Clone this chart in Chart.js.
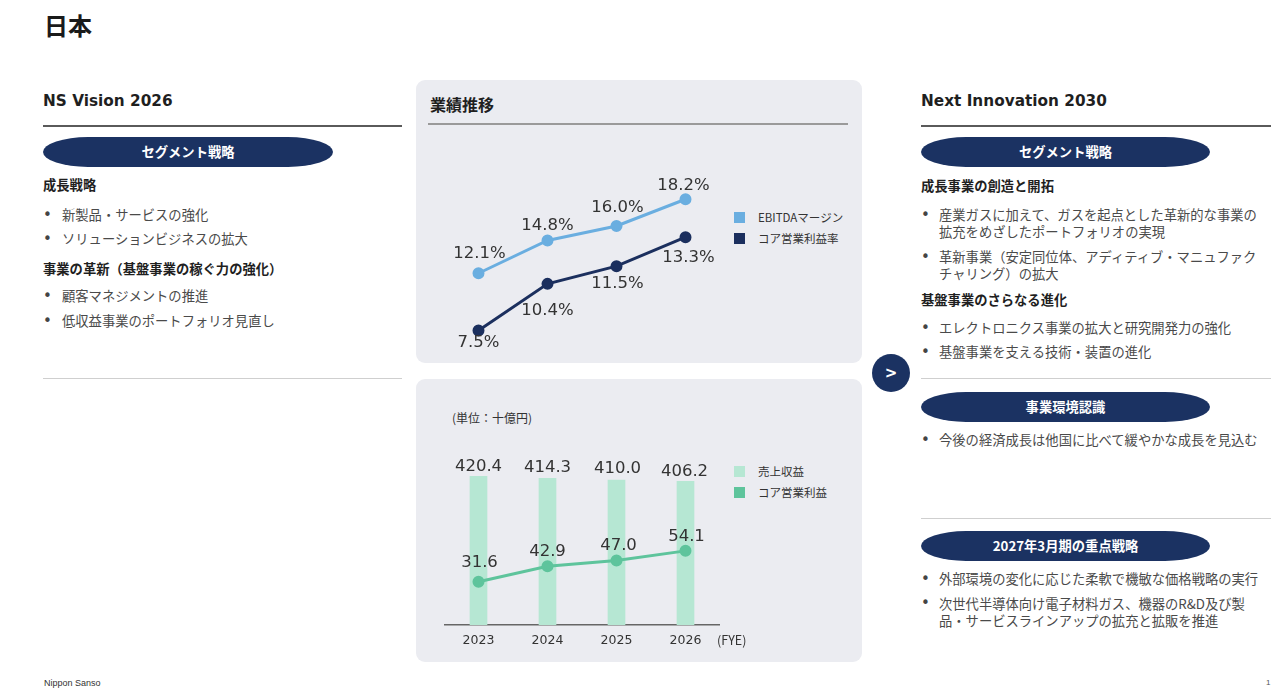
<!DOCTYPE html>
<html lang="ja">
<head>
<meta charset="utf-8">
<script src="https://cdn.jsdelivr.net/npm/chart.js@4"></script>
<style>
  html,body{margin:0;padding:0;background:#fff;}
  body{width:1271px;height:688px;position:relative;overflow:hidden;font-family:"Noto Sans CJK JP","Noto Sans",sans-serif;color:#3c3c3c;}
  .t{position:absolute;white-space:nowrap;line-height:22px;}
  .h1{font-weight:bold;font-size:24px;color:#1a1a1a;line-height:30px;}
  .h2{font-family:"DejaVu Sans","Noto Sans CJK JP",sans-serif;font-weight:bold;font-size:15.3px;color:#1f1f1f;}
  .hb{font-weight:bold;font-size:13.3px;color:#1f1f1f;}
  .b{font-size:13.3px;color:#4a4a4a;}
  .b2{font-size:13.3px;color:#4a4a4a;line-height:17px;}
  .dot{position:absolute;font-size:15px;color:#444;font-family:"DejaVu Sans",sans-serif;}
  .rule{position:absolute;height:1.5px;background:#5a5a5a;}
  .rule2{position:absolute;height:1px;background:#cfcfcf;}
  .pill{position:absolute;height:30px;line-height:30px;background:#1b3262;color:#fff;font-weight:bold;font-size:13.3px;text-align:center;border-radius:45px/15px;}
  .panel{position:absolute;left:416px;width:446px;height:283px;background:#ebecf1;border-radius:9px;}
  .sq{position:absolute;width:11px;height:11px;}
  .lg{font-size:11.5px;color:#333;}
  canvas{position:absolute;}
</style>
</head>
<body>
<div class="t h1" style="left:44px;top:10px;">日本</div>

<!-- Left column -->
<div class="t h2" style="left:43px;top:90px;">NS Vision 2026</div>
<div class="rule" style="left:43px;top:125px;width:359px;"></div>
<div class="pill" style="left:43px;top:137px;width:290px;">セグメント戦略</div>
<div class="t hb" style="left:43px;top:174px;">成長戦略</div>
<div class="t dot" style="left:43px;top:204px;">•</div><div class="t b" style="left:62px;top:204px;">新製品・サービスの強化</div>
<div class="t dot" style="left:43px;top:228px;">•</div><div class="t b" style="left:62px;top:228px;">ソリューションビジネスの拡大</div>
<div class="t hb" style="left:43px;top:258px;">事業の革新（基盤事業の稼ぐ力の強化）</div>
<div class="t dot" style="left:43px;top:285px;">•</div><div class="t b" style="left:62px;top:285px;">顧客マネジメントの推進</div>
<div class="t dot" style="left:43px;top:310px;">•</div><div class="t b" style="left:62px;top:310px;">低収益事業のポートフォリオ見直し</div>
<div class="rule2" style="left:43px;top:378px;width:359px;"></div>

<!-- Middle top panel -->
<div class="panel" style="top:80px;"></div>
<div class="t" style="left:430px;top:93px;font-weight:bold;font-size:16px;color:#1f1f1f;">業績推移</div>
<div class="rule" style="left:428px;top:123px;width:420px;background:#9a9a9a;"></div>
<div class="sq" style="left:734px;top:212px;background:#6aaee0;"></div>
<div class="t lg" style="left:758px;top:206px;">EBITDAマージン</div>
<div class="sq" style="left:734px;top:233px;background:#1b2f5e;"></div>
<div class="t lg" style="left:758px;top:227px;">コア営業利益率</div>
<canvas id="c1" width="276" height="230" style="left:444px;top:130px;"></canvas>

<!-- Middle bottom panel -->
<div class="panel" style="top:379px;"></div>
<div class="t" style="left:452px;top:407px;font-size:12px;color:#333;">(単位：十億円)</div>
<div class="sq" style="left:734px;top:466px;background:#b6e7d3;"></div>
<div class="t lg" style="left:758px;top:460px;">売上収益</div>
<div class="sq" style="left:734px;top:487px;background:#5ec49c;"></div>
<div class="t lg" style="left:758px;top:481px;">コア営業利益</div>
<canvas id="c2" width="276" height="216" style="left:444px;top:440px;"></canvas>
<div class="t" style="left:717px;top:629px;font-size:12.5px;color:#333;">(FYE)</div>

<!-- Arrow -->
<div style="position:absolute;left:872px;top:354px;width:38px;height:38px;border-radius:50%;background:#1b3262;color:#fff;font-weight:bold;font-size:15px;line-height:38px;text-align:center;font-family:'DejaVu Sans',sans-serif;">&gt;</div>

<!-- Right column -->
<div class="t h2" style="left:921px;top:90px;">Next Innovation 2030</div>
<div class="rule" style="left:921px;top:125px;width:350px;"></div>
<div class="pill" style="left:921px;top:137px;width:289px;">セグメント戦略</div>
<div class="t hb" style="left:921px;top:175px;">成長事業の創造と開拓</div>
<div class="t dot" style="left:921px;top:204px;">•</div>
<div class="t b2" style="left:939px;top:206px;">産業ガスに加えて、ガスを起点とした革新的な事業の<br>拡充をめざしたポートフォリオの実現</div>
<div class="t dot" style="left:921px;top:246px;">•</div>
<div class="t b2" style="left:939px;top:248px;">革新事業（安定同位体、アディティブ・マニュファク<br>チャリング）の拡大</div>
<div class="t hb" style="left:921px;top:289px;">基盤事業のさらなる進化</div>
<div class="t dot" style="left:921px;top:317px;">•</div><div class="t b" style="left:939px;top:317px;">エレクトロニクス事業の拡大と研究開発力の強化</div>
<div class="t dot" style="left:921px;top:341px;">•</div><div class="t b" style="left:939px;top:341px;">基盤事業を支える技術・装置の進化</div>
<div class="rule2" style="left:921px;top:378px;width:350px;"></div>
<div class="pill" style="left:921px;top:392px;width:289px;">事業環境認識</div>
<div class="t dot" style="left:921px;top:429px;">•</div><div class="t b" style="left:939px;top:429px;">今後の経済成長は他国に比べて緩やかな成長を見込む</div>
<div class="rule2" style="left:921px;top:518px;width:350px;"></div>
<div class="pill" style="left:921px;top:531px;width:289px;">2027年3月期の重点戦略</div>
<div class="t dot" style="left:921px;top:568px;">•</div><div class="t b" style="left:939px;top:568px;">外部環境の変化に応じた柔軟で機敏な価格戦略の実行</div>
<div class="t dot" style="left:921px;top:592px;">•</div>
<div class="t b2" style="left:939px;top:595px;">次世代半導体向け電子材料ガス、機器のR&amp;D及び製<br>品・サービスラインアップの拡充と拡販を推進</div>

<!-- Footer -->
<div class="t" style="left:44px;top:677px;font-size:9px;line-height:12px;color:#333;font-family:'Liberation Sans',sans-serif;">Nippon Sanso</div>
<div class="t" style="left:1266px;top:677px;font-size:8px;line-height:12px;color:#555;font-family:'Liberation Sans',sans-serif;">1</div>

<script>
// ---- data ----
const years = ['2023', '2024', '2025', '2026'];
const ebitdaMargin = [12.1, 14.8, 16.0, 18.2];
const coreMargin = [7.5, 10.4, 11.5, 13.3];
const revenue = [420.4, 414.3, 410.0, 406.2];
const coreProfit = [31.6, 42.9, 47.0, 54.1];
const seriesNames = ['EBITDAマージン', 'コア営業利益率', '売上収益', 'コア営業利益'];

// ---- label placement (style) ----
const ebitdaLabelOffsets = [[1, -20], [0, -15], [1, -18], [-2, -14]];
const coreMarginLabelOffsets = [[0, 12], [0, 27], [1, 18], [3, 21]];
const revenueLabelOffsets = [[0, -10], [0, -11], [1, -11.5], [-1, -10]];
const coreProfitLabelOffsets = [[1, -19], [0, -14], [2, -15], [1, -14]];

const valueLabels = {
  id: 'valueLabels',
  afterDatasetsDraw(chart) {
    const ctx = chart.ctx;
    ctx.save();
    ctx.font = '16.5px "DejaVu Sans", sans-serif';
    ctx.fillStyle = '#333';
    ctx.textAlign = 'center';
    ctx.textBaseline = 'middle';
    chart.data.datasets.forEach((ds, i) => {
      const meta = chart.getDatasetMeta(i);
      meta.data.forEach((el, j) => {
        const off = ds.labelOffsets[j];
        const v = ds.data[j];
        const txt = v.toFixed(1) + (ds.pct ? '%' : '');
        ctx.fillText(txt, el.x + off[0], el.y + off[1]);
      });
    });
    ctx.restore();
  }
};

Chart.defaults.font.family = '"DejaVu Sans", sans-serif';

new Chart(document.getElementById('c1'), {
  type: 'line',
  data: {
    labels: years,
    datasets: [
      { label: seriesNames[0], data: ebitdaMargin, yAxisID: 'y', borderColor: '#6aaee0', backgroundColor: '#6aaee0',
        pointBackgroundColor: '#6aaee0', pointBorderColor: '#6aaee0', borderWidth: 3, pointRadius: 4.5, tension: 0,
        pct: true, labelOffsets: ebitdaLabelOffsets },
      { label: seriesNames[1], data: coreMargin, yAxisID: 'y2', borderColor: '#1b2f5e', backgroundColor: '#1b2f5e',
        pointBackgroundColor: '#1b2f5e', pointBorderColor: '#1b2f5e', borderWidth: 3, pointRadius: 4.5, tension: 0,
        pct: true, labelOffsets: coreMarginLabelOffsets }
    ]
  },
  options: {
    responsive: false, animation: false, devicePixelRatio: 1,
    layout: { padding: 0, autoPadding: false },
    plugins: { legend: { display: false }, tooltip: { enabled: false } },
    scales: {
      x: { display: false, offset: true },
      y: { display: false, min: 4.95, max: 23.91 },
      y2: { display: false, min: 5.67, max: 19.96 }
    },
    clip: false
  },
  plugins: [valueLabels]
});

new Chart(document.getElementById('c2'), {
  type: 'bar',
  data: {
    labels: years,
    datasets: [
      { type: 'line', label: seriesNames[3], data: coreProfit, yAxisID: 'yl', order: 0,
        borderColor: '#5ec49c', backgroundColor: '#5ec49c', pointBackgroundColor: '#5ec49c', pointBorderColor: '#5ec49c',
        borderWidth: 3, pointRadius: 4.5, tension: 0, labelOffsets: coreProfitLabelOffsets },
      { type: 'bar', label: seriesNames[2], data: revenue, yAxisID: 'y', order: 1,
        backgroundColor: '#b6e7d3', barThickness: 17, labelOffsets: revenueLabelOffsets }
    ]
  },
  options: {
    responsive: false, animation: false, devicePixelRatio: 1,
    layout: { padding: 0, autoPadding: false },
    plugins: { legend: { display: false }, tooltip: { enabled: false } },
    scales: {
      x: { offset: true, grid: { display: false, drawTicks: false },
           border: { display: true, color: '#666', width: 1.5 },
           ticks: { color: '#333', font: { size: 12.5, family: '"DejaVu Sans", sans-serif' }, padding: 8 } },
      y: { display: false, min: 0, max: 523 },
      yl: { display: false, min: 0, max: 135 }
    }
  },
  plugins: [valueLabels]
});
</script>
</body>
</html>
